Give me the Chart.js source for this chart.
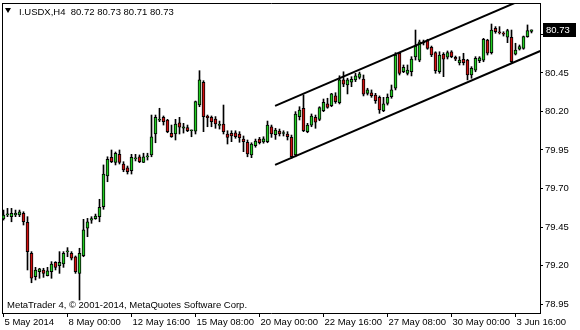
<!DOCTYPE html>
<html><head><meta charset="utf-8">
<script src="https://cdn.jsdelivr.net/npm/chart.js@4.4.1/dist/chart.umd.min.js"></script>
<style>
html,body{margin:0;padding:0;background:#fff;}
#wrap{position:relative;width:580px;height:330px;overflow:hidden;background:#fff;}
canvas{position:absolute;left:0;top:0;}
.txt{position:absolute;font-family:'Liberation Sans',Arial,sans-serif;font-size:9.5px;line-height:11px;color:#000;white-space:nowrap;}
#tri{position:absolute;left:5px;top:8px;width:0;height:0;border-left:3.5px solid transparent;border-right:3.5px solid transparent;border-top:5px solid #000;}
</style></head><body>
<div id="wrap"><canvas id="c" width="580" height="330"></canvas>
<div id="tri"></div><div class="txt" id="hdr" style="left:19px;top:6px"></div>
<div class="txt" id="copy" style="left:7px;top:299px">MetaTrader 4, © 2001-2014, MetaQuotes Software Corp.</div></div>
<script>
const symbolName = 'I.USDX,H4';
const opens = [79.502,79.529,79.517,79.528,79.528,79.539,79.481,79.279,79.127,79.160,
79.171,79.134,79.160,79.221,79.199,79.210,79.288,79.279,79.257,79.149,
79.264,79.442,79.495,79.504,79.517,79.582,79.781,79.903,79.870,79.922,
79.859,79.835,79.816,79.892,79.906,79.870,79.905,79.918,80.054,80.143,
80.162,80.145,80.058,80.054,80.127,80.091,80.095,80.075,80.073,80.242,
80.390,80.171,80.162,80.151,80.110,80.119,80.054,80.058,80.062,80.054,
80.021,80.000,79.918,79.978,80.021,80.002,80.004,80.101,80.049,80.073,
80.057,80.054,80.032,79.918,80.167,80.221,80.069,80.112,80.162,80.149,
80.205,80.249,80.238,80.301,80.257,80.405,80.372,80.390,80.405,80.422,
80.411,80.318,80.322,80.307,80.292,80.205,80.253,80.296,80.351,80.578,
80.458,80.448,80.458,80.554,80.534,80.645,80.660,80.617,80.582,80.458,
80.571,80.552,80.588,80.552,80.515,80.539,80.534,80.437,80.469,80.530,
80.534,80.664,80.582,80.740,80.712,80.703,80.682,80.682,80.573,80.604,
80.610,80.686,80.72];
const highs = [79.560,79.571,79.571,79.560,79.560,79.549,79.517,79.290,79.188,79.182,
79.182,79.188,79.225,79.225,79.290,79.290,79.316,79.290,79.262,79.312,
79.500,79.506,79.517,79.534,79.630,79.853,79.906,79.950,79.937,79.950,
79.874,79.846,79.922,79.922,79.918,79.929,79.929,80.177,80.177,80.221,
80.171,80.149,80.112,80.149,80.162,80.123,80.112,80.080,80.268,80.465,
80.400,80.177,80.171,80.167,80.138,80.242,80.075,80.075,80.075,80.069,
80.041,80.015,79.997,80.021,80.032,80.036,80.138,80.112,80.091,80.086,
80.075,80.069,80.047,80.199,80.231,80.307,80.123,80.184,80.177,80.231,
80.281,80.286,80.318,80.322,80.432,80.458,80.416,80.426,80.448,80.456,
80.437,80.351,80.340,80.318,80.301,80.292,80.314,80.372,80.582,80.582,
80.502,80.502,80.556,80.729,80.664,80.664,80.669,80.625,80.588,80.588,
80.582,80.593,80.595,80.560,80.556,80.578,80.539,80.491,80.556,80.556,
80.675,80.669,80.768,80.751,80.751,80.718,80.734,80.729,80.643,80.632,
80.690,80.762,80.73];
const lows = [79.495,79.517,79.484,79.517,79.517,79.463,79.171,79.088,79.106,79.117,
79.123,79.132,79.117,79.171,79.149,79.188,79.257,79.236,79.149,78.976,
79.257,79.387,79.474,79.500,79.484,79.565,79.744,79.868,79.853,79.859,
79.809,79.794,79.794,79.879,79.868,79.868,79.885,79.906,79.997,80.134,
80.112,80.062,80.032,80.015,80.054,80.060,80.069,80.036,80.054,80.231,
80.069,80.101,80.101,80.091,80.086,80.054,79.989,80.004,80.026,80.000,
79.939,79.906,79.900,79.968,79.989,79.994,79.997,80.032,80.019,80.041,
80.041,80.015,79.896,79.906,80.145,80.069,80.062,80.101,80.091,80.140,
80.199,80.221,80.231,80.253,80.249,80.361,80.314,80.361,80.394,80.411,
80.301,80.307,80.292,80.253,80.188,80.199,80.242,80.286,80.340,80.437,
80.452,80.437,80.431,80.534,80.523,80.632,80.604,80.556,80.448,80.448,
80.426,80.541,80.549,80.530,80.502,80.502,80.405,80.416,80.458,80.517,
80.523,80.567,80.573,80.708,80.703,80.690,80.647,80.513,80.567,80.599,
80.604,80.682,80.71];
const closes = [79.528,79.532,79.539,79.539,79.549,79.484,79.290,79.117,79.171,79.179,
79.149,79.166,79.210,79.188,79.221,79.279,79.290,79.247,79.160,79.279,
79.431,79.484,79.505,79.521,79.578,79.794,79.890,79.874,79.929,79.870,
79.820,79.809,79.903,79.894,79.874,79.906,79.906,80.036,80.162,80.145,
80.134,80.069,80.036,80.119,80.099,80.101,80.075,80.078,80.264,80.405,
80.167,80.160,80.134,80.119,80.112,80.069,80.032,80.041,80.036,80.030,
80.004,79.924,79.989,80.008,79.997,80.023,80.112,80.054,80.080,80.054,
80.059,80.036,79.906,80.184,80.210,80.075,80.112,80.171,80.130,80.225,
80.260,80.227,80.314,80.264,80.405,80.377,80.405,80.409,80.432,80.444,
80.312,80.340,80.303,80.270,80.210,80.249,80.292,80.340,80.567,80.448,
80.487,80.469,80.541,80.625,80.653,80.651,80.610,80.567,80.465,80.567,
80.539,80.582,80.556,80.539,80.534,80.517,80.437,80.481,80.545,80.549,
80.669,80.578,80.729,80.718,80.710,80.702,80.725,80.523,80.599,80.621,
80.686,80.725,80.73];
const xTickIdx = [0,16,32,48,64,80,96,112,128];
const xTickLabels = ['5 May 2014','8 May 00:00','12 May 16:00','15 May 08:00','20 May 00:00','22 May 16:00','27 May 08:00','30 May 00:00','3 Jun 16:00'];
const yTicks = [78.95,79.20,79.45,79.70,79.95,80.20,80.45,80.70];
const channelUpper = [[67.9,80.236],[134.2,80.976]];
const channelLower = [[67.9,79.853],[134.2,80.593]];

const last = opens.length - 1;
document.getElementById('hdr').textContent = symbolName + '\u00a0\u00a0' +
  [opens[last],highs[last],lows[last],closes[last]].map(v=>v.toFixed(2)).join(' ');

const FAM = "'Liberation Sans', Arial, sans-serif";
const FONT = {family: FAM, size: 9.5};
Chart.defaults.font.family = FAM;
const idx = opens.map((_, i) => i);
const GREEN = '#22cc22', RED = '#d01010';

const priceTag = {
  id: 'priceTag',
  afterDraw(chart) {
    const ys = chart.scales.y;
    const v = closes[last];
    const py = Math.round(ys.getPixelForValue(v));
    const ctx = chart.ctx;
    ctx.save();
    ctx.fillStyle = '#000';
    ctx.fillRect(ys.left + 3, py - 7, 33, 14);
    ctx.fillStyle = '#fff';
    ctx.font = "9.5px " + FAM;
    ctx.textBaseline = 'middle';
    ctx.textAlign = 'left';
    ctx.fillText(v.toFixed(2), ys.left + 6, py + 0.5);
    ctx.restore();
  }
};

function noPad(s) { s.paddingTop = 0; s.paddingBottom = 0; s.paddingLeft = 0; s.paddingRight = 0; }

new Chart(document.getElementById('c'), {
  type: 'bar',
  data: {
    datasets: [
      {type: 'line', data: channelUpper.map(p => ({x: p[0], y: p[1]})), borderColor: '#000', borderWidth: 2, pointRadius: 0, order: 0, xAxisID: 'x', yAxisID: 'y'},
      {type: 'line', data: channelLower.map(p => ({x: p[0], y: p[1]})), borderColor: '#000', borderWidth: 2, pointRadius: 0, order: 0, xAxisID: 'x', yAxisID: 'y'},
      {type: 'bar', data: idx.map(i => ({x: i, y: [opens[i], closes[i]]})),
        backgroundColor: idx.map(i => closes[i] >= opens[i] ? GREEN : RED),
        borderColor: '#000', borderWidth: 1, borderSkipped: false, barThickness: 3, grouped: false, minBarLength: 1, order: 1, xAxisID: 'x', yAxisID: 'y'},
      {type: 'bar', data: idx.map(i => ({x: i, y: [lows[i], highs[i]]})),
        backgroundColor: '#000', borderWidth: 0, barThickness: 1, grouped: false, order: 2, xAxisID: 'x', yAxisID: 'y'}
    ]
  },
  options: {
    responsive: false, animation: false, events: [],
    layout: {padding: 0},
    plugins: {legend: {display: false}, tooltip: {enabled: false}},
    scales: {
      x: {
        type: 'linear', position: 'bottom', min: -0.375, max: 134.125, offset: false,
        afterBuildTicks(s) { s.ticks = xTickIdx.map(v => ({value: v})); },
        ticks: {autoSkip: false, maxRotation: 0, minRotation: 0, align: 'start', padding: 0, labelOffset: 1, color: '#000', font: FONT,
          callback: (v) => { const k = xTickIdx.indexOf(v); return k >= 0 ? xTickLabels[k] : ''; }},
        grid: {drawOnChartArea: false, drawTicks: true, tickLength: 4, color: '#000', offset: false},
        border: {display: true, color: '#000', width: 1},
        afterFit(s) { s.height = 17; noPad(s); }
      },
      y: {
        type: 'linear', position: 'right', min: 78.8916, max: 80.9045, beginAtZero: false,
        afterBuildTicks(s) { s.ticks = yTicks.map(v => ({value: v})); },
        ticks: {padding: 2, color: '#000', font: FONT, crossAlign: 'near', callback: v => Number(v).toFixed(2)},
        grid: {drawOnChartArea: false, drawTicks: true, tickLength: 3, color: '#000'},
        border: {display: true, color: '#000', width: 1},
        afterFit(s) { s.width = 40; noPad(s); }
      },
      xt: {
        type: 'linear', position: 'top', display: true, min: 0, max: 1,
        ticks: {display: false}, grid: {display: false, drawTicks: false},
        border: {display: true, color: '#000', width: 1},
        afterFit(s) { s.height = 3; noPad(s); }
      },
      yl: {
        type: 'linear', position: 'left', display: true, min: 0, max: 1,
        ticks: {display: false}, grid: {display: false, drawTicks: false},
        border: {display: true, color: '#000', width: 1},
        afterFit(s) { s.width = 2; noPad(s); }
      }
    }
  },
  plugins: [priceTag]
});
</script>
</body></html>
